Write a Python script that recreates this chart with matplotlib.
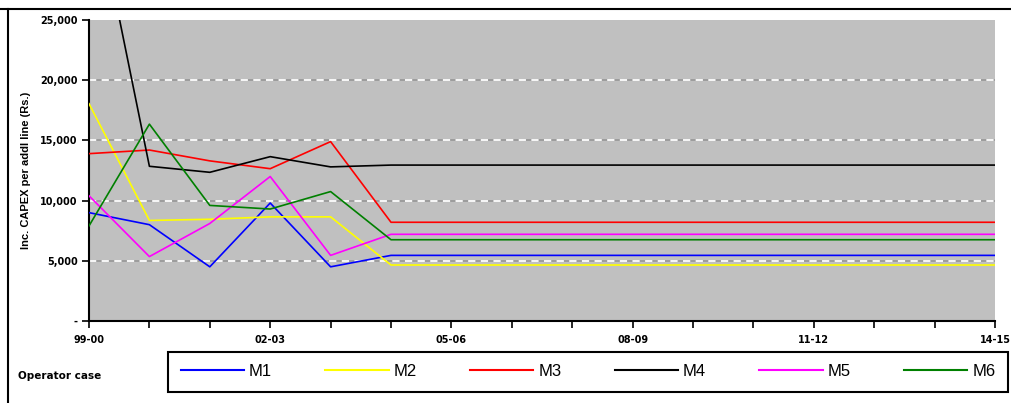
import matplotlib.pyplot as plt
from matplotlib.lines import Line2D
import numpy as np

years = ['99-00', '00-01', '01-02', '02-03', '03-04', '04-05', '05-06', '06-07',
         '07-08', '08-09', '09-10', '10-11', '11-12', '12-13', '13-14', '14-15']

m1 = [9000, 8000, 4500, 9800, 4500, 5450, 5450, 5450, 5450, 5450, 5450, 5450, 5450, 5450, 5450, 5450]
m2 = [18050, 8350, 8450, 8650, 8650, 4650, 4650, 4650, 4650, 4650, 4650, 4650, 4650, 4650, 4650, 4650]
m3 = [13900, 14200, 13300, 12650, 14900, 8200, 8200, 8200, 8200, 8200, 8200, 8200, 8200, 8200, 8200, 8200]
m4 = [37500, 12850, 12350, 13650, 12800, 12950, 12950, 12950, 12950, 12950, 12950, 12950, 12950, 12950, 12950, 12950]
m5 = [10400, 5350, 8100, 12000, 5450, 7200, 7200, 7200, 7200, 7200, 7200, 7200, 7200, 7200, 7200, 7200]
m6 = [7900, 16350, 9600, 9300, 10750, 6750, 6750, 6750, 6750, 6750, 6750, 6750, 6750, 6750, 6750, 6750]

series = [('M1', m1, '#0000ff'), ('M2', m2, '#ffff00'), ('M3', m3, '#ff0000'),
          ('M4', m4, '#000000'), ('M5', m5, '#ff00ff'), ('M6', m6, '#008000')]

y_ticks = [0, 5000, 10000, 15000, 20000, 25000]
y_labels = ['-', '5,000', '10,000', '15,000', '20,000', '25,000']

figure = plt.figure(figsize=(10.12, 4.03), dpi=100)
axes = figure.add_axes([89 / 1012, 82 / 403, 906 / 1012, 301 / 403])
axes.set_facecolor('#c0c0c0')

x = np.arange(len(years))

# gridlines: grey line with white dashes on top
for v in y_ticks[1:-1]:
    axes.axhline(v, color='#9a9a9a', linewidth=1.3, zorder=1)
    axes.axhline(v, color='white', linewidth=1.3, linestyle=(0, (4, 3)), zorder=1.1)

handles = []
for name, values, color in series:
    line, = axes.plot(x, values, color=color, linewidth=1.2, label=name, zorder=3)
    handles.append(line)

axes.set_xlim(0, len(years) - 1)
axes.set_ylim(0, 25000)
axes.set_xticks(x)
axes.set_xticklabels([y if i % 3 == 0 else '' for i, y in enumerate(years)],
                     fontsize=7, fontweight='bold')
axes.set_yticks(y_ticks)
axes.set_yticklabels(y_labels, fontsize=7, fontweight='bold')
axes.tick_params(axis='both', direction='out', length=5, width=1.2, colors='black')
axes.tick_params(axis='x', pad=5)
axes.tick_params(axis='y', pad=3)

for side in ['top', 'right']:
    axes.spines[side].set_visible(False)
for side in ['left', 'bottom']:
    axes.spines[side].set_linewidth(1.5)

axes.set_ylabel('Inc. CAPEX per addl line (Rs.)', fontsize=8, fontweight='bold',
                family='Liberation Sans')
axes.yaxis.set_label_coords(-58 / 906, 0.5)

figure.text(18 / 1012, 1 - 376 / 403, 'Operator case', fontsize=7.5, fontweight='bold',
            va='center', ha='left')

legend = figure.legend(handles=handles, loc='center', ncol=6, mode='expand',
                       bbox_to_anchor=(168 / 1012, 10 / 403, 840 / 1012, 43 / 403),
                       borderaxespad=0,
                       prop={'family': 'Liberation Sans', 'size': 12},
                       handlelength=3.8, handletextpad=0.3, borderpad=0.75,
                       fancybox=False, framealpha=1, edgecolor='black')
legend.get_frame().set_linewidth(1.5)
for h in legend.legend_handles:
    h.set_linewidth(1.5)

# outer frame of the chart (top and left edges)
figure.add_artist(Line2D([0, 1], [1 - 9 / 403, 1 - 9 / 403], color='black', linewidth=1.5,
                         transform=figure.transFigure))
figure.add_artist(Line2D([8 / 1012, 8 / 1012], [0, 1 - 9 / 403], color='black', linewidth=1.5,
                         transform=figure.transFigure))

figure.savefig('out.png', dpi=100)
